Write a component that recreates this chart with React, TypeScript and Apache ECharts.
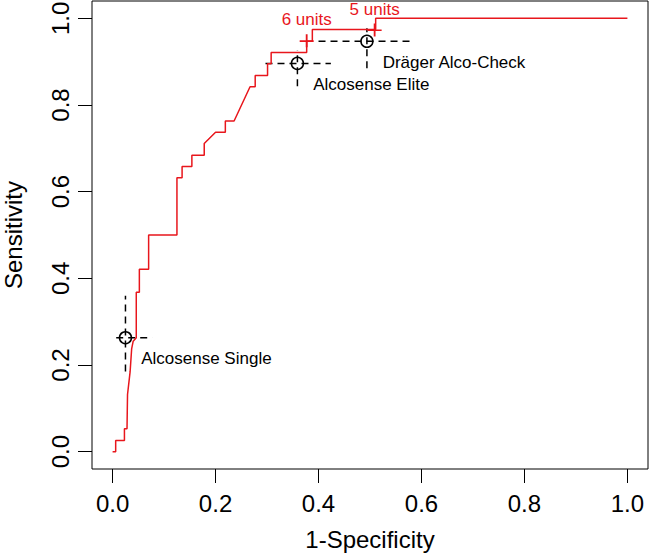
import React, { useEffect, useRef } from "react";
import * as echarts from "echarts";

// ROC curve vertices (1-Specificity, Sensitivity)
const rocFpr = [0, 0.006, 0.006, 0.023, 0.023, 0.028, 0.029, 0.034, 0.037, 0.040, 0.046, 0.046, 0.052, 0.052, 0.070, 0.070, 0.125, 0.125, 0.135, 0.135, 0.154, 0.154, 0.178, 0.178, 0.200, 0.219, 0.219, 0.236, 0.267, 0.277, 0.277, 0.301, 0.301, 0.308, 0.308, 0.377, 0.377, 0.388, 0.388, 0.511, 0.511, 1.0];
const rocSens = [0, 0, 0.026, 0.026, 0.053, 0.053, 0.132, 0.184, 0.237, 0.255, 0.263, 0.368, 0.368, 0.421, 0.421, 0.5, 0.5, 0.632, 0.632, 0.658, 0.658, 0.684, 0.684, 0.711, 0.737, 0.737, 0.763, 0.763, 0.842, 0.842, 0.868, 0.868, 0.895, 0.895, 0.921, 0.921, 0.947, 0.947, 0.974, 0.974, 1.0, 1.0];

// Devices with confidence intervals
const devices = ["Alcosense Single", "Alcosense Elite", "Dräger Alco-Check"];
const deviceFpr = [0.025, 0.359, 0.494];
const deviceSens = [0.263, 0.896, 0.947];
const fprLow = [0.007, 0.297, 0.40];
const fprHigh = [0.077, 0.424, 0.585];
const sensLow = [0.185, 0.843, 0.885];
const sensHigh = [0.36, 0.927, 0.977];

// Cut-off points
const cutoffLabels = ["6 units", "5 units"];
const cutoffFpr = [0.377, 0.509];
const cutoffSens = [0.948, 0.973];

const tickValues = [0, 0.2, 0.4, 0.6, 0.8, 1.0];

const FONT = "'Liberation Sans', Arial, Helvetica, sans-serif";
const RED = "#e8161c";

export default function App() {
  const ref = useRef<HTMLDivElement>(null);
  useEffect(() => {
    if (!ref.current) return;
    const chart = echarts.init(ref.current, undefined, { renderer: "svg" });

    const errSeries: any[] = [];
    devices.forEach((d, i) => {
      errSeries.push({
        type: "line",
        data: [[fprLow[i], deviceSens[i]], [fprHigh[i], deviceSens[i]]],
        showSymbol: false,
        silent: true,
        lineStyle: { color: "#000", width: 1.5, type: [7, 5] },
        z: 2,
      });
      errSeries.push({
        type: "line",
        data: [[deviceFpr[i], sensLow[i]], [deviceFpr[i], sensHigh[i]]],
        showSymbol: false,
        silent: true,
        lineStyle: { color: "#000", width: 1.5, type: [7, 5] },
        z: 2,
      });
    });

    const axisCommon = {
      type: "value",
      min: -0.04,
      max: 1.04,
      nameLocation: "middle",
      nameTextStyle: { fontSize: 24, color: "#000", fontFamily: FONT },
      axisLine: { show: false, onZero: false },
      splitLine: { show: false },
      axisTick: {
        show: true,
        inside: false,
        length: 14,
        customValues: tickValues,
        lineStyle: { color: "#000", width: 1 },
      },
    };

    chart.setOption({
      animation: false,
      grid: {
        left: 92,
        right: 2,
        top: 1,
        bottom: 86,
        containLabel: false,
        outerBoundsMode: "none",
        show: true,
        borderColor: "#000",
        borderWidth: 1,
        backgroundColor: "transparent",
      },
      xAxis: {
        ...axisCommon,
        name: "1-Specificity",
        nameGap: 58,
        axisLabel: {
          customValues: tickValues,
          formatter: (v: number) => v.toFixed(1),
          fontSize: 24,
          color: "#000",
          fontFamily: FONT,
          margin: 22,
          hideOverlap: false,
        },
      },
      yAxis: {
        ...axisCommon,
        name: "Sensitivity",
        nameGap: 67,
        axisLabel: {
          customValues: tickValues,
          formatter: (v: number) => v.toFixed(1),
          fontSize: 24,
          color: "#000",
          fontFamily: FONT,
          margin: 20,
          rotate: 90,
          hideOverlap: false,
        },
      },
      series: [
        ...errSeries,
        {
          type: "line",
          data: rocFpr.map((x, i) => [x, rocSens[i]]),
          showSymbol: false,
          silent: true,
          lineStyle: { color: RED, width: 1.5 },
          z: 3,
        },
        {
          type: "scatter",
          data: devices.map((d, i) => ({ name: d, value: [deviceFpr[i], deviceSens[i]] })),
          symbol: "circle",
          symbolSize: 12,
          itemStyle: { color: "rgba(0,0,0,0)", borderColor: "#000", borderWidth: 1.5, opacity: 1 },
          label: {
            show: true,
            position: "right",
            distance: 0,
            offset: [9, 21],
            formatter: "{b}",
            fontSize: 17,
            color: "#000",
            fontFamily: FONT,
          },
          z: 4,
        },
        {
          type: "scatter",
          data: cutoffLabels.map((d, i) => ({ name: d, value: [cutoffFpr[i], cutoffSens[i]] })),
          symbol: "path://M0,9h20v2.6h-20zM8.7,0h2.6v20h-2.6z",
          symbolSize: [14, 13],
          itemStyle: { color: RED, opacity: 1 },
          label: {
            show: true,
            position: "top",
            distance: 6,
            formatter: "{b}",
            fontSize: 17,
            color: RED,
            fontFamily: FONT,
          },
          z: 5,
        },
      ],
    });
    return () => chart.dispose();
  }, []);
  return <div ref={ref} style={{ width: 650, height: 555, position: "absolute", left: 0, top: 0 }} />;
}
